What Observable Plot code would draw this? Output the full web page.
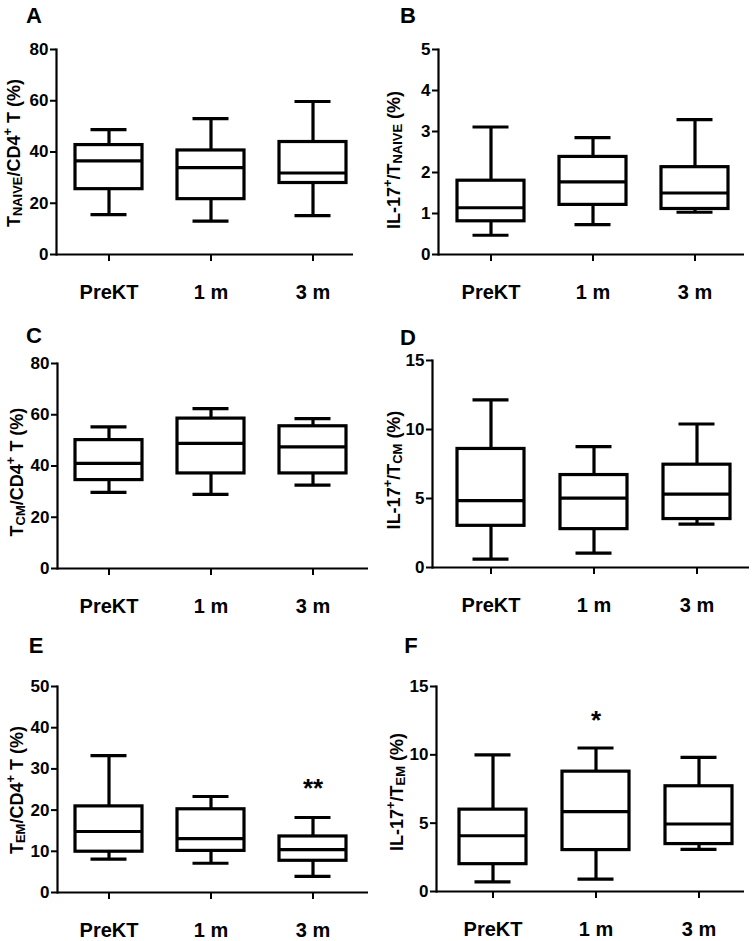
<!DOCTYPE html>
<html>
<head>
<meta charset="utf-8">
<script src="https://cdn.jsdelivr.net/npm/d3@7"></script>
<script src="https://cdn.jsdelivr.net/npm/@observablehq/plot@0.6"></script>
<style>
  html, body { margin: 0; padding: 0; background: #fff; }
  #root { position: relative; width: 755px; height: 941px; background: #fff; font-family: "Liberation Sans", Arial, sans-serif; }
  #root svg { position: absolute; overflow: visible; }
</style>
</head>
<body>
<div id="root"></div>
<script>
// ---------- categories ----------
const groups = ["PreKT", "1 m", "3 m"];

// ---------- Panel A: T_NAIVE / CD4+ T (%) ----------
const naiveMax = [48.7, 53.0, 59.7];
const naiveQ3  = [42.7, 40.6, 43.9];
const naiveMed = [36.5, 33.9, 31.8];
const naiveQ1  = [25.5, 21.6, 27.9];
const naiveMin = [15.6, 13.0, 15.2];
const naiveTicks = [0, 20, 40, 60, 80];

// ---------- Panel B: IL-17+ / T_NAIVE (%) ----------
const il17NaiveMax = [3.11, 2.85, 3.29];
const il17NaiveQ3  = [1.80, 2.38, 2.13];
const il17NaiveMed = [1.14, 1.77, 1.50];
const il17NaiveQ1  = [0.81, 1.21, 1.11];
const il17NaiveMin = [0.47, 0.73, 1.03];
const il17NaiveTicks = [0, 1, 2, 3, 4, 5];

// ---------- Panel C: T_CM / CD4+ T (%) ----------
const cmMax = [55.3, 62.4, 58.5];
const cmQ3  = [50.1, 58.5, 55.5];
const cmMed = [41.0, 48.8, 47.5];
const cmQ1  = [34.5, 37.1, 37.1];
const cmMin = [29.7, 28.9, 32.5];
const cmTicks = [0, 20, 40, 60, 80];

// ---------- Panel D: IL-17+ / T_CM (%) ----------
const il17CmMax = [12.15, 8.76, 10.40];
const il17CmQ3  = [8.59, 6.70, 7.45];
const il17CmMed = [4.84, 5.03, 5.32];
const il17CmQ1  = [3.02, 2.78, 3.51];
const il17CmMin = [0.60, 1.04, 3.15];
const il17CmTicks = [0, 5, 10, 15];

// ---------- Panel E: T_EM / CD4+ T (%) ----------
const emMax = [33.2, 23.3, 18.2];
const emQ3  = [20.9, 20.2, 13.6];
const emMed = [14.8, 13.1, 10.4];
const emQ1  = [9.9, 10.1, 7.7];
const emMin = [8.1, 7.1, 3.9];
const emSig = ["", "", "**"];
const emSigAt = [null, null, 25.3];
const emTicks = [0, 10, 20, 30, 40, 50];

// ---------- Panel F: IL-17+ / T_EM (%) ----------
const il17EmMax = [9.99, 10.5, 9.82];
const il17EmQ3  = [5.99, 8.77, 7.70];
const il17EmMed = [4.08, 5.84, 4.94];
const il17EmQ1  = [2.00, 3.03, 3.47];
const il17EmMin = [0.71, 0.90, 3.08];
const il17EmSig = ["", "*", ""];
const il17EmSigAt = [null, 12.5, null];
const il17EmTicks = [0, 5, 10, 15];

// ---------- axis titles (text parts; sub = subscript, sup = superscript) ----------
const titleA = [{t: "T"}, {t: "NAIVE", sub: true}, {t: "/CD4"}, {t: "+", sup: true}, {t: " T (%)"}];
const titleB = [{t: "IL-17"}, {t: "+", sup: true}, {t: "/T"}, {t: "NAIVE", sub: true}, {t: " (%)"}];
const titleC = [{t: "T"}, {t: "CM", sub: true}, {t: "/CD4"}, {t: "+", sup: true}, {t: " T (%)"}];
const titleD = [{t: "IL-17"}, {t: "+", sup: true}, {t: "/T"}, {t: "CM", sub: true}, {t: " (%)"}];
const titleE = [{t: "T"}, {t: "EM", sub: true}, {t: "/CD4"}, {t: "+", sup: true}, {t: " T (%)"}];
const titleF = [{t: "IL-17"}, {t: "+", sup: true}, {t: "/T"}, {t: "EM", sub: true}, {t: " (%)"}];

// ---------- layout ----------
const FONT = "'Liberation Sans', Arial, Helvetica, sans-serif";
const BOX_W = 67;
const CAP_W = 36;
const LW = 3.2;

const layouts = [
  {letter: "A", left: 0,   top: 0,   w: 377, h: 310, mt: 49, mb: 56, ml: 56, mr: 24, centers: [108, 210, 313], yDomain: [0, 80], letterPos: [34, 23],  labelPos: [20, 153]},
  {letter: "B", left: 377, top: 0,   w: 378, h: 310, mt: 49, mb: 56, ml: 61, mr: 11, centers: [113, 215, 317], yDomain: [0, 5],  letterPos: [31, 23],  labelPos: [23, 160]},
  {letter: "C", left: 0,   top: 310, w: 377, h: 310, mt: 53, mb: 52, ml: 57, mr: 9,  centers: [108, 211, 313], yDomain: [0, 80], letterPos: [34, 33],  labelPos: [23, 162]},
  {letter: "D", left: 377, top: 310, w: 378, h: 310, mt: 50, mb: 53, ml: 55, mr: 6,  centers: [113, 217, 320], yDomain: [0, 15], letterPos: [31, 35],  labelPos: [23, 160]},
  {letter: "E", left: 0,   top: 620, w: 377, h: 321, mt: 66, mb: 49, ml: 57, mr: 9,  centers: [108, 211, 313], yDomain: [0, 50], letterPos: [36, 33],  labelPos: [23, 170]},
  {letter: "F", left: 377, top: 620, w: 378, h: 321, mt: 66, mb: 50, ml: 59, mr: 11, centers: [115, 218, 322], yDomain: [0, 15], letterPos: [34, 33],  labelPos: [26, 172]}
];

const series = [
  {min: naiveMin, q1: naiveQ1, med: naiveMed, q3: naiveQ3, max: naiveMax, ticks: naiveTicks, title: titleA},
  {min: il17NaiveMin, q1: il17NaiveQ1, med: il17NaiveMed, q3: il17NaiveQ3, max: il17NaiveMax, ticks: il17NaiveTicks, title: titleB},
  {min: cmMin, q1: cmQ1, med: cmMed, q3: cmQ3, max: cmMax, ticks: cmTicks, title: titleC},
  {min: il17CmMin, q1: il17CmQ1, med: il17CmMed, q3: il17CmQ3, max: il17CmMax, ticks: il17CmTicks, title: titleD},
  {min: emMin, q1: emQ1, med: emMed, q3: emQ3, max: emMax, ticks: emTicks, title: titleE, sig: emSig, sigAt: emSigAt},
  {min: il17EmMin, q1: il17EmQ1, med: il17EmMed, q3: il17EmQ3, max: il17EmMax, ticks: il17EmTicks, title: titleF, sig: il17EmSig, sigAt: il17EmSigAt}
];

function addYTitle(svg, parts, bx, cy, F) {
  const t = d3.select(svg).append("text")
    .attr("transform", `translate(${bx},${cy}) rotate(-90)`)
    .attr("text-anchor", "middle")
    .attr("font-family", FONT)
    .attr("font-size", F)
    .attr("font-weight", "bold")
    .attr("fill", "#000");
  let cur = 0;
  for (const p of parts) {
    const target = p.sub ? 0.1 * F : p.sup ? -0.42 * F : 0;
    t.append("tspan")
      .attr("dy", target - cur)
      .attr("font-size", (p.sub || p.sup) ? 0.72 * F : F)
      .text(p.t);
    cur = target;
  }
}

const root = document.getElementById("root");

layouts.forEach((L, k) => {
  const S = series[k];
  const rows = groups.map((g, i) => ({
    g, min: S.min[i], q1: S.q1[i], med: S.med[i], q3: S.q3[i], max: S.max[i],
    sig: S.sig ? S.sig[i] : "", sigAt: S.sigAt ? S.sigAt[i] : null
  }));
  const step = (L.centers[2] - L.centers[0]) / 2;
  const pi = 1 - BOX_W / step;
  const capInset = (BOX_W - CAP_W) / 2;

  const svg = Plot.plot({
    width: L.w,
    height: L.h,
    marginTop: L.mt,
    marginBottom: L.mb,
    marginLeft: L.ml,
    marginRight: L.mr,
    style: {fontFamily: FONT, fontWeight: "bold", fontSize: "17px", color: "#000", background: "transparent", overflow: "visible"},
    x: {type: "band", domain: groups, range: [L.centers[0] - step / 2, L.centers[2] + step / 2],
        paddingInner: pi, paddingOuter: pi / 2, align: 0.5, label: null},
    y: {domain: L.yDomain, label: null},
    marks: [
      Plot.ruleX(rows, {x: "g", y1: "min", y2: "q1", stroke: "#000", strokeWidth: LW}),
      Plot.ruleX(rows, {x: "g", y1: "q3", y2: "max", stroke: "#000", strokeWidth: LW}),
      Plot.tickY(rows, {x: "g", y: "min", stroke: "#000", strokeWidth: LW, insetLeft: capInset, insetRight: capInset}),
      Plot.tickY(rows, {x: "g", y: "max", stroke: "#000", strokeWidth: LW, insetLeft: capInset, insetRight: capInset}),
      Plot.barY(rows, {x: "g", y1: "q1", y2: "q3", fill: "#fff", stroke: "#000", strokeWidth: LW}),
      Plot.tickY(rows, {x: "g", y: "med", stroke: "#000", strokeWidth: LW}),
      Plot.text(rows.filter(d => d.sig), {x: "g", y: "sigAt", text: "sig", fontSize: 26, fontWeight: "bold", fill: "#000"}),
      Plot.axisY({ticks: S.ticks, tickFormat: "d", tickSize: 6, tickPadding: 2, strokeWidth: 2, fontSize: 17, fontWeight: "bold", label: null}),
      Plot.axisX({tickSize: 7, tickPadding: 23, strokeWidth: 2, fontSize: 20, fontWeight: "bold", label: null}),
      Plot.ruleY([0], {stroke: "#000", strokeWidth: 2.2}),
      Plot.frame({anchor: "left", stroke: "#000", strokeWidth: 2.2})
    ]
  });
  svg.style.left = L.left + "px";
  svg.style.top = L.top + "px";

  // panel letter
  d3.select(svg).append("text")
    .attr("x", L.letterPos[0]).attr("y", L.letterPos[1])
    .attr("font-family", FONT).attr("font-size", 22).attr("font-weight", "bold")
    .attr("fill", "#000").text(L.letter);

  addYTitle(svg, S.title, L.labelPos[0], L.labelPos[1], 18);
  root.appendChild(svg);
});
</script>
</body>
</html>
